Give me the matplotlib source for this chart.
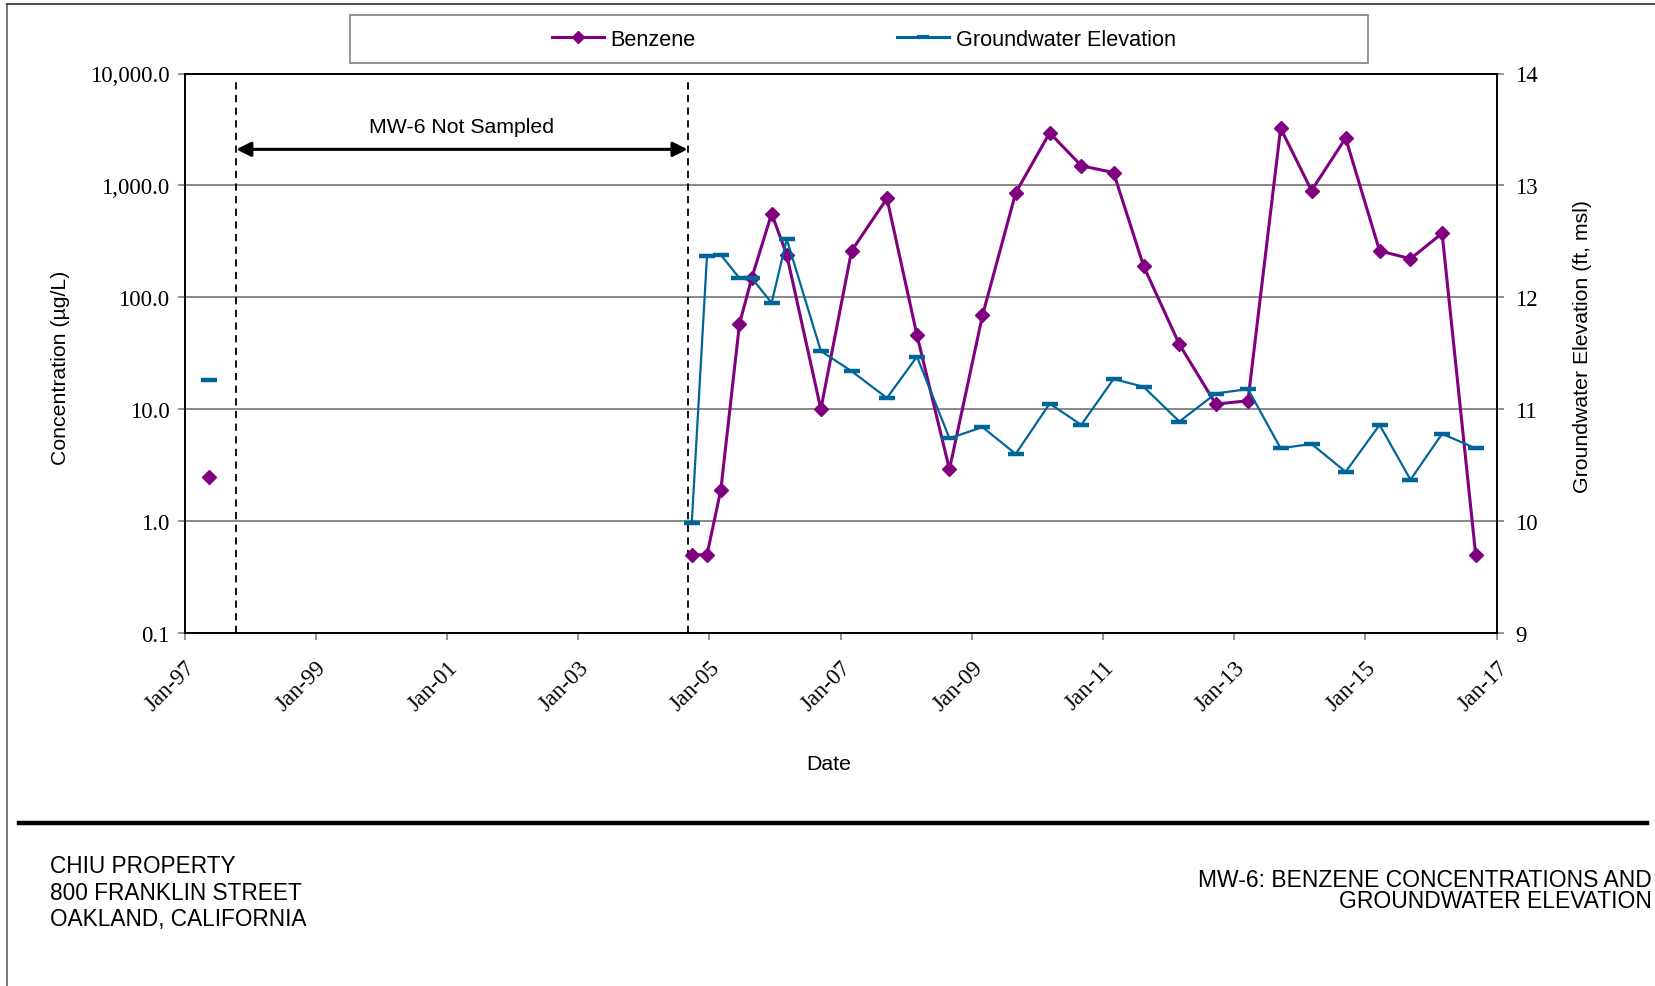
import matplotlib
matplotlib.use("Agg")
import matplotlib.pyplot as plt
import matplotlib.dates as mdates
from matplotlib.ticker import FixedLocator, FuncFormatter, NullLocator
from matplotlib.lines import Line2D
from matplotlib.patches import Rectangle
import pandas as pd
import numpy as np

# ---------------- data ----------------
sample_dates = ["1997-05-15",
                "2004-09-24", "2004-12-18", "2005-03-05", "2005-06-17", "2005-08-25",
                "2005-12-13", "2006-03-07", "2006-09-13", "2007-03-03", "2007-09-16",
                "2008-03-01", "2008-08-29", "2009-03-01", "2009-09-02", "2010-03-10",
                "2010-09-02", "2011-03-01", "2011-08-15", "2012-03-01", "2012-09-20",
                "2013-03-18", "2013-09-16", "2014-03-07", "2014-09-13", "2015-03-21",
                "2015-09-09", "2016-03-03", "2016-09-06"]
benzene = [2.5,
           0.5, 0.5, 1.9, 58, 150,
           560, 240, 10, 260, 765,
           46, 2.9, 69, 860, 2950,
           1500, 1300, 190, 38, 11.1,
           11.9, 3240, 900, 2650, 260,
           221, 373, 0.5]
gw_elev = [11.26,
           9.98, 12.37, 12.38, 12.17, 12.17,
           11.95, 12.52, 11.52, 11.34, 11.10,
           11.47, 10.74, 10.84, 10.60, 11.05,
           10.86, 11.27, 11.20, 10.89, 11.14,
           11.18, 10.65, 10.69, 10.44, 10.86,
           10.37, 10.78, 10.65]
not_sampled_start = "1997-10-15"
not_sampled_end = "2004-09-01"
conc_ticks = [0.1, 1, 10, 100, 1000, 10000]
elev_ticks = [9, 10, 11, 12, 13, 14]
x_start, x_end = "1997-01-01", "2017-01-01"

# ---------------- style ----------------
PURPLE = "#800080"
BLUE = "#006699"
GRIDC = "#808080"
SANS = "Liberation Sans"
SERIF = "Liberation Serif"

W, H = 1655, 987
fig = plt.figure(figsize=(W / 100, H / 100), dpi=100)

def fx(px):
    return px / W

def fy(py):
    return 1 - py / H

left, right, top, bottom = 184.7, 1496.7, 74.5, 634.0
ax = fig.add_axes([fx(left), fy(bottom), fx(right - left), (bottom - top) / H])
ax2 = ax.twinx()

dates = pd.to_datetime(sample_dates)

# benzene (isolated first point, then continuous series)
bz_kw = dict(color=PURPLE, lw=2.2, marker="D", markersize=7.5, zorder=3)
ax.plot(dates[:1], benzene[:1], **bz_kw)
ax.plot(dates[1:], benzene[1:], **bz_kw)

gw_kw = dict(color=BLUE, lw=1.6, marker="_", markersize=11, markeredgewidth=3.2, zorder=3)
ax2.plot(dates[:1], gw_elev[:1], **gw_kw)
ax2.plot(dates[1:], gw_elev[1:], **gw_kw)

# axes scales
ax.set_yscale("log")
ax.set_ylim(conc_ticks[0], conc_ticks[-1])
ax.yaxis.set_major_locator(FixedLocator(conc_ticks))
ax.yaxis.set_minor_locator(NullLocator())
ax.yaxis.set_major_formatter(FuncFormatter(lambda v, p: f"{v:,.1f}"))
ax2.set_ylim(elev_ticks[0], elev_ticks[-1])
ax2.yaxis.set_major_locator(FixedLocator(elev_ticks))

ax.set_xlim(pd.Timestamp(x_start), pd.Timestamp(x_end))
xt = pd.date_range(x_start, x_end, freq="2YS")
ax.xaxis.set_major_locator(FixedLocator(mdates.date2num(xt)))
ax.xaxis.set_minor_locator(NullLocator())
ax.xaxis.set_major_formatter(mdates.DateFormatter("%b-%y"))

ax.grid(axis="y", color=GRIDC, lw=1.3)
ax.set_axisbelow(True)

for a in (ax, ax2):
    for s in a.spines.values():
        s.set_color("black")
        s.set_linewidth(1.2)
ax.tick_params(axis="both", which="major", length=5, width=1.2, color=GRIDC,
               labelsize=16.5, pad=6)
ax2.tick_params(axis="y", which="major", length=5, width=1.2, color=GRIDC,
                labelsize=16.5, pad=8)
for lab in ax.get_yticklabels() + ax2.get_yticklabels() + ax.get_xticklabels():
    lab.set_fontfamily(SERIF)
for lab in ax.get_xticklabels():
    lab.set_rotation(45)
    lab.set_ha("right")
    lab.set_va("top")
    lab.set_rotation_mode("anchor")
ax.tick_params(axis="x", pad=12)

# axis labels
ax.set_ylabel("Concentration (µg/L)", fontsize=15.3, fontfamily=SANS)
ax.yaxis.set_label_coords((60.7 - left) / (right - left), (bottom - 367.5) / (bottom - top))
ax.yaxis.label.set_va("center")
ax2.set_ylabel("Groundwater Elevation (ft, msl)", fontsize=15.3, fontfamily=SANS, rotation=90)
ax2.yaxis.set_label_coords((1582 - left) / (right - left), (bottom - 346.5) / (bottom - top))
ax2.yaxis.label.set_va("center")
ax.set_xlabel("Date", fontsize=15.3, fontfamily=SANS)
ax.xaxis.set_label_coords((828.6 - left) / (right - left), (bottom - 765) / (bottom - top))
ax.xaxis.label.set_va("center")

# not-sampled annotation
d0, d1 = pd.Timestamp(not_sampled_start), pd.Timestamp(not_sampled_end)
for d in (d0, d1):
    ax.axvline(d, ymin=0, ymax=0.99, color="black", lw=1.3, ls=(0, (4, 3)), zorder=2)
ax.annotate("", xy=(d1, 2100), xytext=(d0, 2100),
            arrowprops=dict(arrowstyle="<|-|>", color="black", lw=2.2,
                            mutation_scale=22, shrinkA=0, shrinkB=0), zorder=4)
ax.text(d0 + (d1 - d0) / 2, 3350, "MW-6 Not Sampled", ha="center", va="center",
        fontsize=15.3, fontfamily=SANS)

# legend
fig.patches.append(Rectangle((fx(350), fy(63.5)), fx(1018), 48 / H, transform=fig.transFigure,
                             fill=False, edgecolor=GRIDC, lw=1.2))
handles = [Line2D([], [], color=PURPLE, lw=2.2, marker="D", markersize=6),
           Line2D([], [], color=BLUE, lw=2.2, marker="_", markersize=8, markeredgewidth=3)]
fig.legend(handles, ["Benzene", "Groundwater Elevation"], loc="center",
           bbox_to_anchor=(fx(863.8), fy(40.5)), ncol=2, frameon=False,
           columnspacing=9.3, handlelength=2.4, handletextpad=0.3,
           prop=dict(family=SANS, size=15.6))

# page frame and footer
fig.add_artist(Line2D([fx(7), fx(7)], [fy(5), fy(987)], color="#606060", lw=1.2,
                      transform=fig.transFigure))
fig.add_artist(Line2D([fx(7), fx(1655)], [fy(5), fy(5)], color="#303030", lw=1.2,
                      transform=fig.transFigure))
fig.add_artist(Line2D([fx(19), fx(1647)], [fy(824), fy(824)], color="black", lw=3.2,
                      transform=fig.transFigure))

for txt, py in [("CHIU PROPERTY", 866.5), ("800 FRANKLIN STREET", 893.5),
                ("OAKLAND, CALIFORNIA", 920)]:
    fig.text(fx(49.6), fy(py), txt, ha="left", va="center", fontsize=16.3, fontfamily=SANS)
for txt, py in [("MW-6: BENZENE CONCENTRATIONS AND", 881), ("GROUNDWATER ELEVATION", 902)]:
    fig.text(fx(1652), fy(py), txt, ha="right", va="center", fontsize=16.5, fontfamily=SANS)

fig.savefig("out.png", dpi=100, facecolor="white")
